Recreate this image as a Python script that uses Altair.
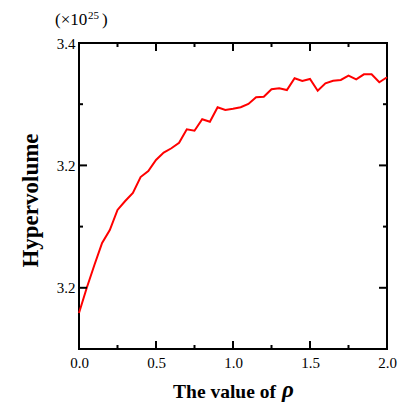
import altair as alt
import pandas as pd

# ---- data ----
rho = [0.00, 0.05, 0.10, 0.15, 0.20, 0.25, 0.30, 0.35, 0.40, 0.45,
       0.50, 0.55, 0.60, 0.65, 0.70, 0.75, 0.80, 0.85, 0.90, 0.95,
       1.00, 1.05, 1.10, 1.15, 1.20, 1.25, 1.30, 1.35, 1.40, 1.45,
       1.50, 1.55, 1.60, 1.65, 1.70, 1.75, 1.80, 1.85, 1.90, 1.95, 2.00]
hypervolume = [3.1294, 3.1498, 3.1686, 3.1866, 3.1972, 3.2136, 3.2209, 3.2275, 3.2405, 3.2454,
               3.2544, 3.2605, 3.2640, 3.2685, 3.2795, 3.2783, 3.2877, 3.2857, 3.2975, 3.2953,
               3.2963, 3.2975, 3.3002, 3.3056, 3.3061, 3.3122, 3.3130, 3.3116, 3.3212, 3.3190,
               3.3206, 3.3110, 3.3171, 3.3192, 3.3198, 3.3233, 3.3203, 3.3244, 3.3244, 3.3179, 3.3220]

y_major_ticks = [3.15, 3.25, 3.35]
y_tick_labels = ["3.2", "3.2", "3.4"]
y_minor_ticks = [3.10, 3.20, 3.30]
x_major_ticks = [0.0, 0.5, 1.0, 1.5, 2.0]
x_minor_ticks = [0.25, 0.75, 1.25, 1.75]
exponent_parts = ["(×10", "25", ")"]
x_title_parts = ["The value of", "ρ"]
y_title = "Hypervolume"

W, H = 308, 306
FONT = "Liberation Serif"

xscale = alt.Scale(domain=[0, 2.0], nice=False, zero=False)
yscale = alt.Scale(domain=[3.10, 3.35], nice=False, zero=False)

label_expr = "''"
for v, t in zip(y_major_ticks, y_tick_labels):
    label_expr = f"abs(datum.value - {v}) < 1e-6 ? '{t}' : ({label_expr})"

x_axis = alt.Axis(values=x_major_ticks, format=".1f", ticks=False, domain=False,
                  grid=False, labelFont=FONT, labelFontSize=15, labelColor="black",
                  labelPadding=6, labelFlush=False,
                  title=x_title_parts[0], titleFont=FONT, titleFontSize=19.5,
                  titleFontWeight="bold", titleColor="black",
                  titleX=145, titleY=48, titleBaseline="alphabetic", titleAlign="center")
y_axis = alt.Axis(values=y_major_ticks, labelExpr=label_expr, ticks=False, domain=False,
                  grid=False, labelFont=FONT, labelFontSize=15, labelColor="black",
                  labelPadding=4, labelFlush=False,
                  title=y_title, titleFont=FONT, titleFontSize=23,
                  titleFontWeight="bold", titleColor="black", titleAngle=-90,
                  titleX=-42, titleY=157, titleBaseline="alphabetic", titleAlign="center")

df = pd.DataFrame({"rho": rho, "hv": hypervolume})

line = alt.Chart(df).mark_line(color="#ff0000", strokeWidth=2).encode(
    x=alt.X("rho:Q", scale=xscale, axis=x_axis),
    y=alt.Y("hv:Q", scale=yscale, axis=y_axis),
)


def ytick_layer(values, x0, x1):
    d = pd.DataFrame({"hv": values})
    return alt.Chart(d).mark_rule(color="black", strokeWidth=2).encode(
        y=alt.Y("hv:Q", scale=yscale, axis=y_axis),
        x=alt.value(x0), x2=alt.value(x1))


def xtick_layer(values, y0, y1):
    d = pd.DataFrame({"rho": values})
    return alt.Chart(d).mark_rule(color="black", strokeWidth=2).encode(
        x=alt.X("rho:Q", scale=xscale, axis=x_axis),
        y=alt.value(y0), y2=alt.value(y1))


ticks = [
    ytick_layer(y_major_ticks, 0, 8), ytick_layer(y_minor_ticks, 0, 4),
    ytick_layer(y_major_ticks, W, W - 8), ytick_layer(y_minor_ticks, W, W - 4),
    xtick_layer(x_major_ticks, H, H - 8), xtick_layer(x_minor_ticks, H, H - 4),
    xtick_layer(x_major_ticks, 0, 8), xtick_layer(x_minor_ticks, 0, 4),
]


def text_layer(txt, x, y, size, weight="normal", style="normal"):
    return alt.Chart(pd.DataFrame({"t": [txt]})).mark_text(
        align="left", baseline="alphabetic", font=FONT, fontSize=size, color="black",
        fontWeight=weight, fontStyle=style
    ).encode(x=alt.value(x), y=alt.value(y), text="t:N")


extra_text = [
    text_layer(exponent_parts[0], -24, -18, 17),
    text_layer(exponent_parts[1], 9, -24, 11),
    text_layer(exponent_parts[2], 23, -18, 17),
    text_layer(x_title_parts[1], 203, 354, 23, weight="bold", style="italic"),
]

chart = alt.layer(line, *ticks, *extra_text).properties(
    width=W, height=H,
    autosize=alt.AutoSizeParams(type="none"),
    padding={"left": 79, "top": 43, "right": 19, "bottom": 53},
    background="white",
).configure_view(stroke="black", strokeWidth=2)

chart.save("out.html", embed_options={"renderer": "svg", "actions": False})
